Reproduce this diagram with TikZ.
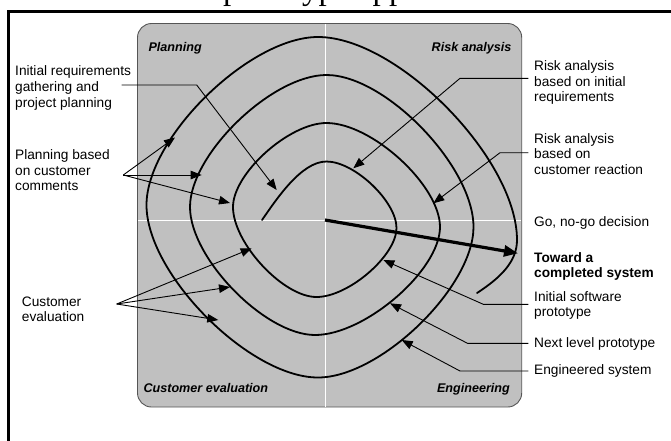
\documentclass[tikz,border=0pt]{standalone}
\usepackage{fontspec}
\setmainfont{Liberation Sans}
\newfontfamily\titlefont{Liberation Serif}
\usetikzlibrary{arrows.meta}

\definecolor{panel}{RGB}{192,192,192}
\definecolor{panelrim}{RGB}{85,85,85}

\begin{document}
\begin{tikzpicture}[x=1pt,y=-1pt,
  lbl/.style={inner sep=0pt, anchor=west, align=left, font=\fontsize{13.7}{15.6}\selectfont},
  quad/.style={inner sep=0pt, font=\fontsize{12.6}{14}\selectfont\bfseries\itshape},
  spiral/.style={line width=1.8pt, line join=round, line cap=round},
  lead/.style={line width=0.9pt},
  leadarrow/.style={lead, -{Triangle[length=11pt,width=8.5pt]}},
  bigarrow/.style={line width=3.2pt, -{Triangle[length=14pt,width=11pt]}},
]
\useasboundingbox (0,0) rectangle (671,440);

% title line, set above the frame
\node[anchor=base west, inner sep=0pt, font=\titlefont\fontsize{33}{36}\selectfont] (title) at (223,-0.5) {prototype approach};

% outer frame
\draw[line width=3pt] (8.3,450) -- (8.3,11) -- (690,11);

% quadrant panel with its axes
\draw[panelrim, fill=panel, line width=0.9pt, rounded corners=14pt] (137.5,23.5) rectangle (521.7,407);
\draw[white, line width=1pt] (325,24) -- (325,406.5);
\draw[white, line width=1pt] (138,220) -- (521.2,220);

% quadrant titles
\node[quad, anchor=base west] (qplan) at (148.3,51) {Planning};
\node[quad, anchor=base east] (qrisk) at (511.7,51) {Risk analysis};
\node[quad, anchor=base west] (qcust) at (143.3,392) {Customer evaluation};
\node[quad, anchor=base east] (qeng) at (510,392.5) {Engineering};

% the spiral, one quarter turn per segment
\draw[spiral] (262,220) .. controls (276,200) and (301,161.5) .. (326.5,161.5)
  .. controls (354.5,161.5) and (396.5,201.4) .. (396.5,228)
  .. controls (396.5,255.6) and (348.5,297) .. (316.5,297)
  .. controls (283.1,297) and (233,243) .. (233,207)
  .. controls (233,173.4) and (289.1,123) .. (326.5,123)
  .. controls (371.9,123) and (440,185.4) .. (440,227)
  .. controls (440,270.2) and (365,335) .. (315,335)
  .. controls (265,335) and (190,258.2) .. (190,207)
  .. controls (190,154.2) and (271.9,75) .. (326.5,75)
  .. controls (385.3,75) and (473.5,166.2) .. (473.5,227)
  .. controls (473.5,287.2) and (380.2,377.5) .. (318,377.5)
  .. controls (249.4,377.5) and (146.5,274) .. (146.5,205)
  .. controls (146.5,137.8) and (249.4,37) .. (318,37)
  .. controls (397.6,37) and (517,158.8) .. (517,240)
  .. controls (517,262) and (500,278) .. (477,293);

% go / no-go arrow
\coordinate (origin) at (325,220);
\coordinate (towardtip) at (518,253.3);
\draw[bigarrow] (origin) -- (towardtip);

% labels on the left
\node[lbl] (initreq) at (15,88) {Initial requirements\\gathering and\\project planning};
\node[lbl] (planbased) at (15,170.4) {Planning based\\on customer\\comments};
\node[lbl] (custeval) at (21.7,309.2) {Customer\\evaluation};

% labels on the right
\node[lbl] (riskinit) at (534,82.7) {Risk analysis\\based on initial\\requirements};
\node[lbl] (riskcust) at (534,153.9) {Risk analysis\\based on\\customer reaction};
\node[lbl] (gonogo) at (534,223.2) {Go, no-go decision};
\node[lbl, font=\fontsize{13.7}{15.6}\selectfont\bfseries] (toward) at (534,266.3) {Toward a\\completed system};
\node[lbl] (initsw) at (534,305.4) {Initial software\\prototype};
\node[lbl] (nextlvl) at (534,343.5) {Next level prototype};
\node[lbl] (engsys) at (534,370.9) {Engineered system};

% leader lines: start, bend, tip on the spiral
\coordinate (irS) at (121.7,85);   \coordinate (irK) at (196.7,85);   \coordinate (irT) at (276.7,190);
\coordinate (pbS) at (123.3,175);
\coordinate (pbT1) at (175,137.5); \coordinate (pbT2) at (201.7,175); \coordinate (pbT3) at (230,203);
\coordinate (ceS) at (116.7,304);
\coordinate (ceT1) at (251.7,248.3); \coordinate (ceT2) at (230,287); \coordinate (ceT3) at (218.3,320);
\coordinate (raS) at (528.3,78.3); \coordinate (raK) at (460,78.3);  \coordinate (raT) at (353.3,168.3);
\coordinate (rcS) at (528.3,152.7); \coordinate (rcK) at (500,152.7); \coordinate (rcT) at (433.3,203.3);
\coordinate (isS) at (528.3,304.3); \coordinate (isK) at (483.3,304.3); \coordinate (isT) at (383.3,260);
\coordinate (nlS) at (528.3,343.3); \coordinate (nlK) at (467.5,343.3); \coordinate (nlT) at (390,303.3);
\coordinate (esS) at (528.3,371);   \coordinate (esK) at (460,371);     \coordinate (esT) at (401.7,340);

\draw[leadarrow] (irS) -- (irK) -- (irT);
\draw[leadarrow] (pbS) -- (pbT1);
\draw[leadarrow] (pbS) -- (pbT2);
\draw[leadarrow] (pbS) -- (pbT3);
\draw[leadarrow] (ceS) -- (ceT1);
\draw[leadarrow] (ceS) -- (ceT2);
\draw[leadarrow] (ceS) -- (ceT3);
\draw[leadarrow] (raS) -- (raK) -- (raT);
\draw[leadarrow] (rcS) -- (rcK) -- (rcT);
\draw[leadarrow] (isS) -- (isK) -- (isT);
\draw[leadarrow] (nlS) -- (nlK) -- (nlT);
\draw[leadarrow] (esS) -- (esK) -- (esT);
\end{tikzpicture}
\end{document}
